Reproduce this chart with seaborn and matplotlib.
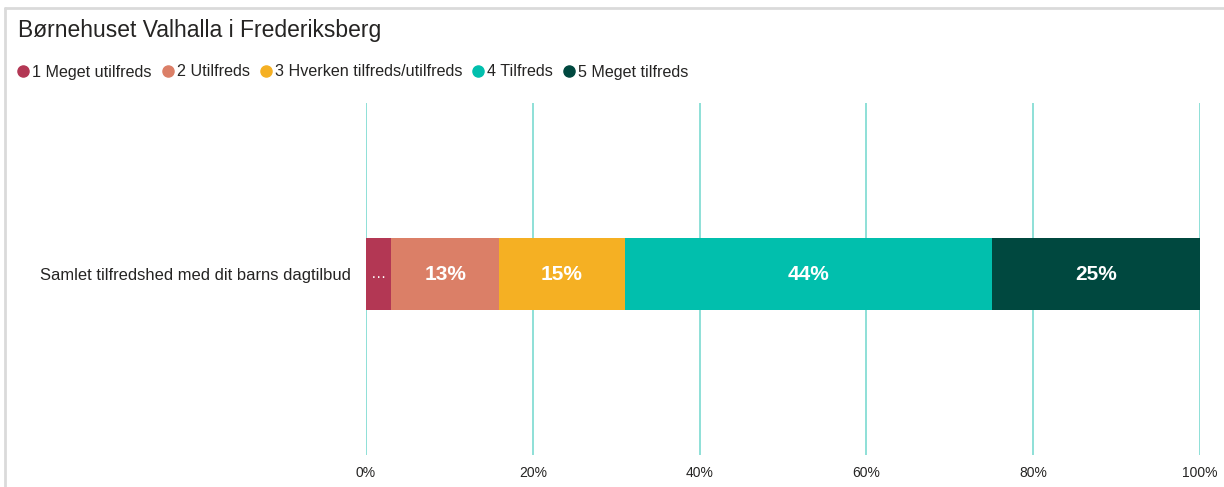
import matplotlib
matplotlib.use("Agg")
import matplotlib.pyplot as plt
from matplotlib.lines import Line2D
import seaborn as sns
import pandas as pd
import numpy as np

title = "Børnehuset Valhalla i Frederiksberg"
question = "Samlet tilfredshed med dit barns dagtilbud"
categories = ["1 Meget utilfreds", "2 Utilfreds", "3 Hverken tilfreds/utilfreds", "4 Tilfreds", "5 Meget tilfreds"]
values = [3, 13, 15, 44, 25]
colors = ["#B33754", "#DB7F67", "#F5B023", "#01BFAD", "#00483F"]
xticks = [0, 20, 40, 60, 80, 100]
xtick_labels = ["0%", "20%", "40%", "60%", "80%", "100%"]

sns.set_theme(style="white")
plt.rcParams["font.family"] = ["Liberation Sans", "DejaVu Sans"]

fig = plt.figure(figsize=(12.24, 4.87), dpi=100)
ax = fig.add_axes([366/1224, 1-455/487, (1200-366)/1224, (455-103)/487])

cum = np.cumsum(values)
# draw cumulative bars from largest to smallest so they stack visually
for i in range(len(values)-1, -1, -1):
    df = pd.DataFrame({"q": [question], "v": [cum[i]]})
    sns.barplot(data=df, x="v", y="q", color=colors[i], width=0.205,
                saturation=1, orient="h", ax=ax, edgecolor="none")

ax.set_xlim(0, 100)
ax.set_ylim(0.514, -0.486)
ax.set_xticks(xticks)
ax.set_xticklabels(xtick_labels, fontsize=10, color="#252423")
ax.tick_params(axis="x", length=0, pad=8)
ax.tick_params(axis="y", length=0, pad=11, labelsize=11.9, labelcolor="#252423")
ax.set_xlabel("")
ax.set_ylabel("")
for s in ax.spines.values():
    s.set_visible(False)
ax.grid(axis="x", color="#86DDD4", linewidth=1.3)
ax.set_axisbelow(True)

starts = cum - np.array(values)
for v, st in zip(values, starts):
    label = f"{v}%" if v >= 5 else "…"
    ax.text(st + v/2, 0, label, ha="center", va="center", color="white",
            fontsize=15 if v >= 5 else 11, fontweight="semibold" if v >= 5 else "normal")

fig.text(18/1224, 1-30/487, title, fontsize=16.5, color="#252423", ha="left", va="center")

handles = [Line2D([0], [0], marker="o", linestyle="none", markersize=8,
                  markerfacecolor=c, markeredgecolor=c) for c in colors]
fig.legend(handles, categories, loc="center left", bbox_to_anchor=(8/1224, 1-72/487),
           ncol=5, frameon=False, fontsize=11.6, handletextpad=0.0, columnspacing=0.45,
           handlelength=1.1, borderaxespad=0, labelcolor="#252423")

# panel frame lines (top and left)
fig.add_artist(Line2D([5/1224, 1], [1-8/487, 1-8/487], color="#DADADA", linewidth=2, transform=fig.transFigure))
fig.add_artist(Line2D([5/1224, 5/1224], [0, 1-8/487], color="#DADADA", linewidth=2, transform=fig.transFigure))

fig.savefig("out.png", dpi=100)
